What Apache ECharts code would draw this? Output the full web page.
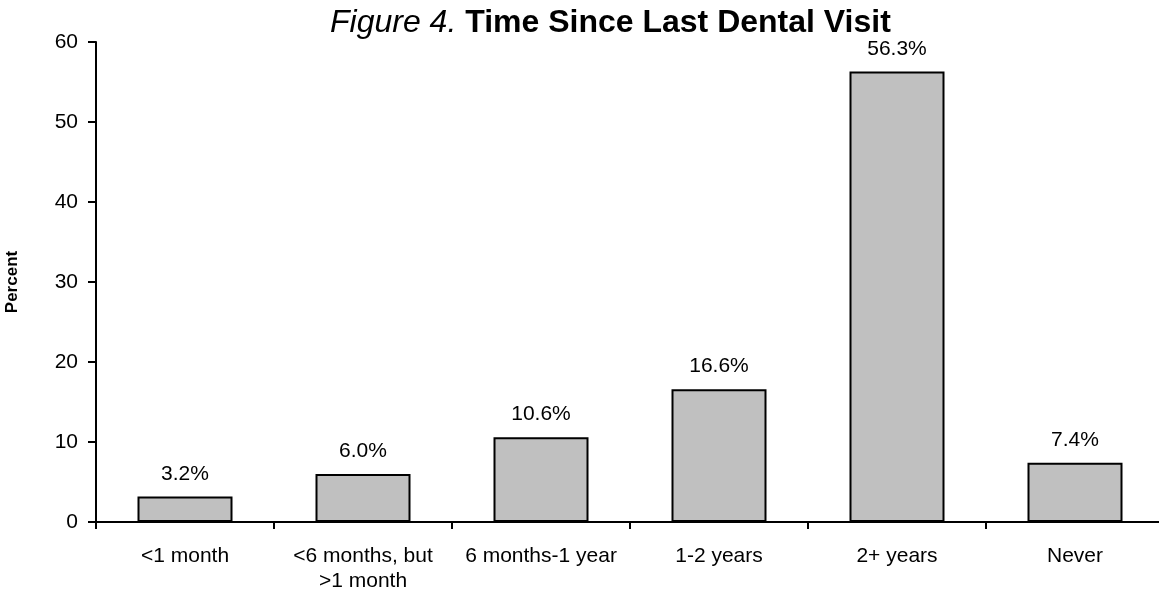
<!DOCTYPE html>
<html>
<head>
<meta charset="utf-8">
<script src="https://cdn.jsdelivr.net/npm/echarts@6/dist/echarts.min.js"></script>
<style>
  html, body { margin: 0; padding: 0; background: #fff; }
  #chart { width: 1159px; height: 590px; }
</style>
</head>
<body>
<div id="chart"></div>
<script>
// Time since last dental visit, percent of respondents
const categories = ['<1 month', '<6 months, but\n>1 month', '6 months-1 year', '1-2 years', '2+ years', 'Never'];
const percents = [3.2, 6.0, 10.6, 16.6, 56.3, 7.4];
const yTicks = [0, 10, 20, 30, 40, 50, 60];

const FONT = '"Liberation Sans", Arial, sans-serif';

const chart = echarts.init(document.getElementById('chart'), null, { renderer: 'canvas' });

chart.setOption({
  animation: false,
  backgroundColor: '#ffffff',
  title: {
    text: '{it|Figure 4.} {b|Time Since Last Dental Visit}',
    left: 325,
    top: 2,
    textStyle: {
      fontFamily: FONT,
      fontSize: 32,
      rich: {
        it: { fontFamily: FONT, fontStyle: 'italic', fontWeight: 'normal', fontSize: 32, color: '#000' },
        b: { fontFamily: FONT, fontWeight: 'bold', fontSize: 32, color: '#000' }
      }
    }
  },
  grid: { left: 96, top: 42, width: 1068, height: 480, outerBoundsMode: 'none', containLabel: false },
  xAxis: {
    type: 'category',
    data: categories,
    boundaryGap: true,
    axisLine: { show: true, lineStyle: { color: '#000', width: 2 } },
    axisTick: { show: true, alignWithLabel: false, length: 7, lineStyle: { color: '#000', width: 2 } },
    axisLabel: {
      color: '#000', fontFamily: FONT, fontSize: 21, margin: 22,
      lineHeight: 25, interval: 0
    },
    splitLine: { show: false }
  },
  yAxis: {
    type: 'value',
    min: yTicks[0],
    max: yTicks[yTicks.length - 1],
    interval: 10,
    name: 'Percent',
    nameLocation: 'middle',
    nameGap: 75,
    nameRotate: 90,
    nameTextStyle: { color: '#000', fontFamily: FONT, fontWeight: 'bold', fontSize: 17 },
    axisLine: { show: true, lineStyle: { color: '#000', width: 2 } },
    axisTick: { show: true, length: 8, lineStyle: { color: '#000', width: 2 } },
    axisLabel: { color: '#000', fontFamily: FONT, fontSize: 21, margin: 18 },
    splitLine: { show: false }
  },
  series: [{
    type: 'bar',
    data: percents,
    barWidth: 95,
    itemStyle: { color: '#c0c0c0', borderColor: '#000', borderWidth: 2 },
    label: {
      show: true,
      position: 'top',
      distance: 12,
      color: '#000',
      fontFamily: FONT,
      fontSize: 21,
      formatter: p => p.value.toFixed(1) + '%'
    }
  }]
});
</script>
</body>
</html>
